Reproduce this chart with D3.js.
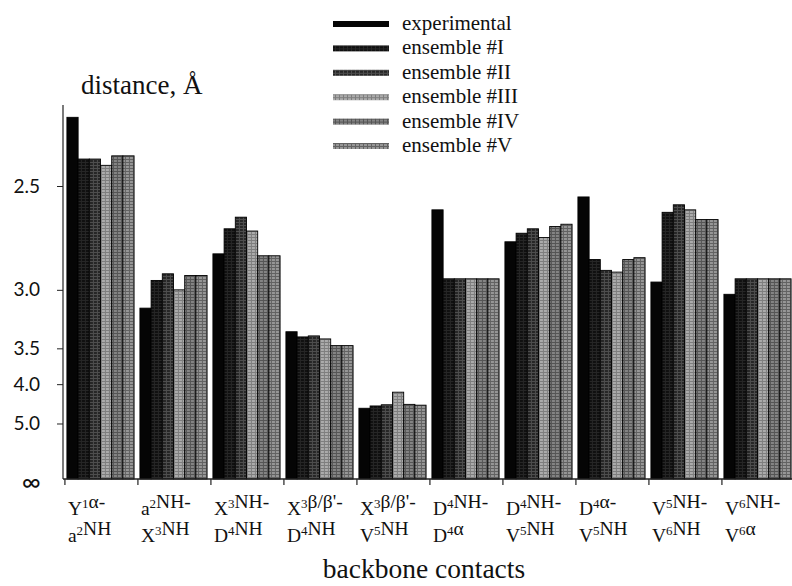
<!DOCTYPE html>
<html>
<head>
<meta charset="utf-8">
<script src="https://cdn.jsdelivr.net/npm/d3@7"></script>
<style>
  body { margin: 0; background: #fff; }
  text { font-family: "Liberation Serif", "Times New Roman", serif; fill: #111; }
</style>
</head>
<body>
<div id="chart"></div>
<script>
// contact labels, {n} marks a superscript
const contacts = ["Y{1}α-|a{2}NH", "a{2}NH-|X{3}NH", "X{3}NH-|D{4}NH", "X{3}β/β'-|D{4}NH", "X{3}β/β'-|V{5}NH",
                  "D{4}NH-|D{4}α", "D{4}NH-|V{5}NH", "D{4}α-|V{5}NH", "V{5}NH-|V{6}NH", "V{6}NH-|V{6}α"];
const series = ["experimental", "ensemble #I", "ensemble #II", "ensemble #III", "ensemble #IV", "ensemble #V"];

// distances in Angstrom
const experimental = [2.29, 3.13, 2.79, 3.33, 4.52, 2.59, 2.73, 2.54, 2.95, 3.03];
const ensembleI    = [2.41, 2.94, 2.67, 3.38, 4.46, 2.93, 2.69, 2.82, 2.60, 2.93];
const ensembleII   = [2.41, 2.90, 2.62, 3.37, 4.43, 2.93, 2.67, 2.88, 2.57, 2.93];
const ensembleIII  = [2.43, 3.00, 2.68, 3.40, 4.15, 2.93, 2.71, 2.89, 2.59, 2.93];
const ensembleIV   = [2.40, 2.91, 2.80, 3.47, 4.42, 2.93, 2.66, 2.82, 2.63, 2.93];
const ensembleV    = [2.40, 2.91, 2.80, 3.47, 4.44, 2.93, 2.65, 2.81, 2.63, 2.93];
const allValues = [experimental, ensembleI, ensembleII, ensembleIII, ensembleIV, ensembleV];

const tickDist = [2.5, 3.0, 3.5, 4.0, 5.0, Infinity];
const tickText = ["2.5", "3.0", "3.5", "4.0", "5.0", "∞"];

const W = 792, H = 586;
const base = 479, axisX = 63;

const svg = d3.select("#chart").append("svg")
    .attr("width", W).attr("height", H);

// textures for the grey bars
const defs = svg.append("defs");
const fills = [
  {base: "#050505", grid: null},
  {base: "#101010", grid: "#262626"},
  {base: "#262626", grid: "#4e4e4e"},
  {base: "#ababab", grid: "#7e7e7e"},
  {base: "#848484", grid: "#555"},
  {base: "#969696", grid: "#626262"}
];
fills.forEach(function(f, i) {
  let p = defs.append("pattern").attr("id", "pat" + i)
      .attr("patternUnits", "userSpaceOnUse").attr("width", 4).attr("height", 3);
  p.append("rect").attr("width", 4).attr("height", 3).attr("fill", f.base);
  if (f.grid) {
    p.append("rect").attr("x", 0).attr("y", 0).attr("width", 4).attr("height", 1).attr("fill", f.grid);
    p.append("rect").attr("x", 2).attr("y", 1).attr("width", 1).attr("height", 2).attr("fill", f.grid);
  }
});

// y: distance shown on an inverse power scale
let y = d3.scalePow().exponent(2.4)
    .domain([0, 1 / 2.5])
    .range([base, 186]);

let x = d3.scaleBand()
    .domain(contacts)
    .range([64, 794])
    .paddingInner(0.08)
    .paddingOuter(0.04);

let x1 = d3.scaleBand()
    .domain(series)
    .range([0, x.bandwidth()]);

// bars
let groups = svg.selectAll("g.grp").data(contacts).enter()
    .append("g").attr("class", "grp")
    .attr("transform", function(d) { return `translate(${x(d)},0)`; });

groups.selectAll("rect")
    .data(function(d, i) { return series.map(function(s, k) { return {s: s, k: k, v: allValues[k][i]}; }); })
    .enter().append("rect")
    .attr("x", function(d) { return x1(d.s); })
    .attr("y", function(d) { return y(1 / d.v); })
    .attr("width", x1.bandwidth())
    .attr("height", function(d) { return base - y(1 / d.v); })
    .attr("fill", function(d) { return "url(#pat" + d.k + ")"; })
    .attr("stroke", "#000")
    .attr("stroke-width", 0.9);

// y axis
let yAxis = svg.append("g")
    .attr("transform", `translate(${axisX},0)`)
    .call(d3.axisLeft(y)
        .tickValues(tickDist.map(function(d) { return 1 / d; }))
        .tickSize(6).tickPadding(17)
        .tickFormat(function(d, i) { return tickText[i]; }));
yAxis.select(".domain").remove();
yAxis.selectAll("text")
    .style("font-family", "Lato, 'Open Sans', sans-serif")
    .style("font-size", "19px").style("fill", "#111");
yAxis.selectAll("line").attr("stroke", "#222");
yAxis.selectAll(".tick").filter(function(d) { return d === 0; })
    .select("text").style("font-size", "26px").attr("dy", "0.45em").attr("x", -22);
yAxis.selectAll(".tick").filter(function(d) { return d === 0; }).select("line").remove();

svg.append("line")
    .attr("x1", axisX).attr("x2", axisX).attr("y1", 105).attr("y2", base)
    .attr("stroke", "#222").attr("stroke-width", 1.2);
svg.append("line")
    .attr("x1", axisX).attr("x2", W).attr("y1", base).attr("y2", base)
    .attr("stroke", "#222").attr("stroke-width", 1.5);

// group boundary ticks
svg.selectAll("line.gtick").data(contacts).enter().append("line")
    .attr("class", "gtick")
    .attr("x1", function(d) { return x(d) - 2; })
    .attr("x2", function(d) { return x(d) - 2; })
    .attr("y1", base).attr("y2", base + 6)
    .attr("stroke", "#222").attr("stroke-width", 1.2);

// category labels with superscripts
function addRich(textSel, str) {
  str.split(/(\{\d\})/).forEach(function(part) {
    if (!part) return;
    let m = part.match(/^\{(\d)\}$/);
    if (m) {
      textSel.append("tspan").attr("font-size", "13px").attr("dy", "-7").text(m[1]);
      textSel.append("tspan").attr("dy", "7").text("");
    } else {
      textSel.append("tspan").text(part);
    }
  });
}
contacts.forEach(function(c) {
  let lines = c.split("|");
  lines.forEach(function(line, j) {
    let t = svg.append("text")
        .attr("x", x(c) + 1)
        .attr("y", 515 + j * 27)
        .style("font-size", "19.5px");
    addRich(t, line);
  });
});

// titles
svg.append("text")
    .attr("x", 81).attr("y", 94)
    .style("font-size", "27px")
    .text("distance, Å");
svg.append("text")
    .attr("x", 424).attr("y", 578)
    .style("text-anchor", "middle")
    .style("font-size", "27.5px")
    .text("backbone contacts");

// legend
let legend = svg.append("g").attr("transform", "translate(333,24)");
series.forEach(function(s, k) {
  let row = legend.append("g").attr("transform", `translate(0,${k * 24.4})`);
  row.append("rect")
      .attr("x", 0).attr("y", -3).attr("width", 56).attr("height", 6)
      .attr("fill", "url(#pat" + k + ")");
  row.append("text")
      .attr("x", 69).attr("y", 6)
      .style("font-size", "21px")
      .text(s);
});
</script>
</body>
</html>
